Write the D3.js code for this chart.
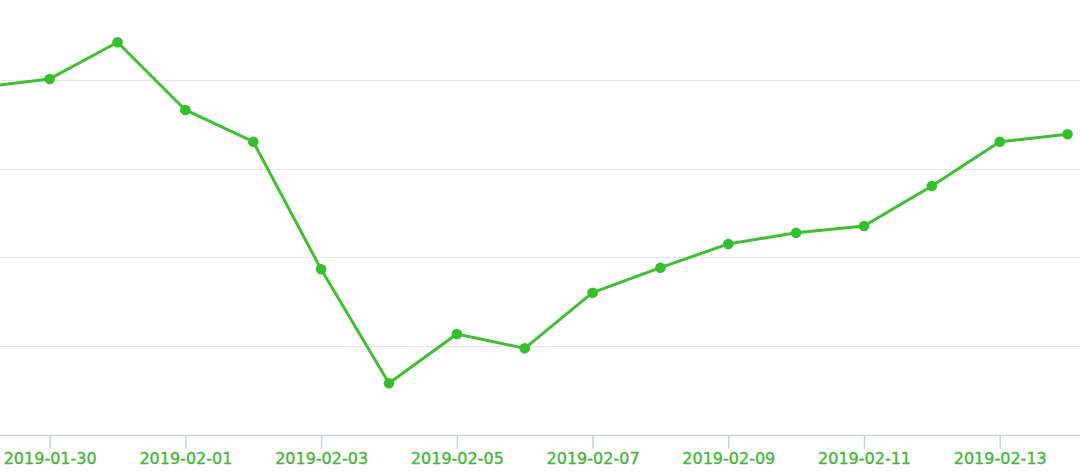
<!DOCTYPE html>
<html><head><meta charset="utf-8">
<script src="https://cdn.jsdelivr.net/npm/d3@7"></script>
<style>html,body{margin:0;padding:0;background:#fff;overflow:hidden}</style>
</head><body>
<svg id="chart" width="1080" height="473"></svg>
<script>
const dates = ["2019-01-29","2019-01-30","2019-01-31","2019-02-01","2019-02-02","2019-02-03","2019-02-04","2019-02-05","2019-02-06","2019-02-07","2019-02-08","2019-02-09","2019-02-10","2019-02-11","2019-02-12","2019-02-13","2019-02-14"];
const values = [195.9,200.6,221.3,183.1,165.2,93.2,28.9,56.7,48.6,80.0,94.1,107.5,113.8,117.6,140.2,165.2,169.4];
const yTicks = [0,50,100,150,200];
const xTickLabels = ["2019-01-30","2019-02-01","2019-02-03","2019-02-05","2019-02-07","2019-02-09","2019-02-11","2019-02-13"];

const parse = d3.utcParse("%Y-%m-%d");
const fmt = d3.utcFormat("%Y-%m-%d");
const data = dates.map((d,i)=>({date:parse(d), value:values[i]}));

const svg = d3.select("#chart");
const W = 1080;
const x = d3.scaleUtc().domain([parse("2019-01-29"), parse("2019-02-14")]).range([-18.2, 1067.6]);
const y = d3.scaleLinear().domain([0,200]).range([434.5, 80]);

svg.append("defs").append("clipPath").attr("id","clip")
  .append("rect").attr("x",0).attr("y",0).attr("width",W).attr("height",473);

// grid
svg.append("g").selectAll("line").data(yTicks.slice(1)).join("line")
  .attr("x1",0).attr("x2",W)
  .attr("y1",d=>Math.round(y(d))+0.5).attr("y2",d=>Math.round(y(d))+0.5)
  .attr("stroke","#e6e6e6").attr("stroke-width",1);

// x axis
const xAxis = d3.axisBottom(x)
  .tickValues(xTickLabels.map(parse))
  .tickFormat(fmt)
  .tickSizeOuter(0).tickSize(13).tickPadding(4);
const gx = svg.append("g").attr("transform",`translate(0,${Math.round(y(0))+0.5})`).call(xAxis);
gx.select(".domain").remove();
gx.insert("line",":first-child").attr("x1",0).attr("x2",W).attr("y1",0).attr("y2",0)
  .attr("stroke","#c6d2e6").attr("stroke-width",1.5);
gx.selectAll(".tick line").attr("stroke","#c6d2e6").attr("stroke-width",1.5);
gx.selectAll(".tick text").attr("fill","#42b836")
  .attr("stroke","#42b836").attr("stroke-width",0.35)
  .style("font-family","'DejaVu Sans', sans-serif").style("font-size","16px");

// line
const g = svg.append("g").attr("clip-path","url(#clip)");
g.append("path").datum(data)
  .attr("fill","none").attr("stroke","#3cc22d").attr("stroke-width",3)
  .attr("stroke-linejoin","round")
  .attr("d", d3.line().x(d=>x(d.date)).y(d=>y(d.value)));
g.selectAll("circle").data(data).join("circle")
  .attr("cx",d=>x(d.date)).attr("cy",d=>y(d.value)).attr("r",5.3)
  .attr("fill","#33c12a");
</script>
</body></html>
